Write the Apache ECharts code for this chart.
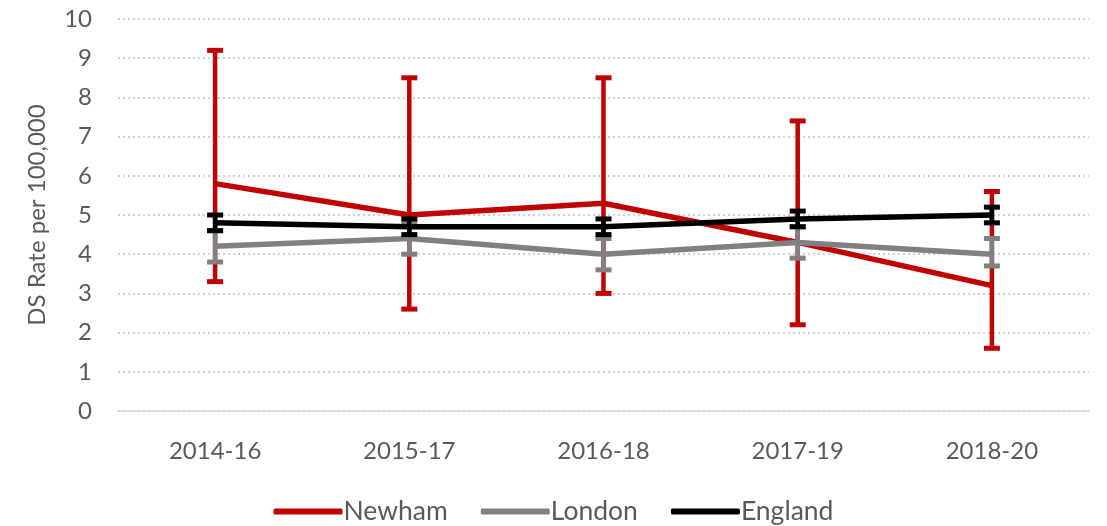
<!DOCTYPE html>
<html>
<head>
<meta charset="utf-8">
<script src="https://cdn.jsdelivr.net/npm/echarts@6/dist/echarts.min.js"></script>
<style>
  html, body { margin: 0; padding: 0; background: #fff; }
  #chart { width: 1107px; height: 526px; }
</style>
</head>
<body>
<div id="chart"></div>
<script>
// Periods (3-year pooled)
const categories = ['2014-16', '2015-17', '2016-18', '2017-19', '2018-20'];

// Rates per 100,000 with 95% confidence limits
const newham     = [5.8, 5.0, 5.3, 4.3, 3.2];
const newhamLow  = [3.3, 2.6, 3.0, 2.2, 1.6];
const newhamHigh = [9.2, 8.5, 8.5, 7.4, 5.6];

const london     = [4.2, 4.4, 4.0, 4.3, 4.0];
const londonLow  = [3.8, 4.0, 3.6, 3.9, 3.7];
const londonHigh = [4.6, 4.8, 4.4, 4.7, 4.4];

const england     = [4.8, 4.7, 4.7, 4.9, 5.0];
const englandLow  = [4.6, 4.5, 4.5, 4.7, 4.8];
const englandHigh = [5.0, 4.9, 4.9, 5.1, 5.2];

const yTicks = [0, 1, 2, 3, 4, 5, 6, 7, 8, 9, 10];

const textColor = '#595959';
const fontFamily = 'Lato, "Open Sans", sans-serif';

// Vertical confidence-interval bar with caps, one per category
function errorSeries(name, low, high, color, z) {
  return {
    name: name + ' CI',
    type: 'custom',
    z: z,
    silent: true,
    data: low.map((v, i) => [i, v, high[i]]),
    renderItem: function (params, api) {
      const lo = api.coord([api.value(0), api.value(1)]);
      const hi = api.coord([api.value(0), api.value(2)]);
      const half = 8;
      const capStyle = { stroke: color, lineWidth: 5, fill: null };
      return {
        type: 'group',
        children: [
          { type: 'line', shape: { x1: lo[0], y1: lo[1], x2: hi[0], y2: hi[1] }, style: { stroke: color, lineWidth: 4.5, fill: null } },
          { type: 'line', shape: { x1: lo[0] - half, y1: lo[1], x2: lo[0] + half, y2: lo[1] }, style: capStyle },
          { type: 'line', shape: { x1: hi[0] - half, y1: hi[1], x2: hi[0] + half, y2: hi[1] }, style: capStyle }
        ]
      };
    }
  };
}

function lineSeries(name, data, color, z) {
  return {
    name: name,
    type: 'line',
    z: z,
    data: data,
    symbol: 'none',
    lineStyle: { color: color, width: 5.5 },
    itemStyle: { color: color },
    silent: true
  };
}

const chart = echarts.init(document.getElementById('chart'), null, { renderer: 'canvas' });

chart.setOption({
  animation: false,
  textStyle: { fontFamily: fontFamily },
  grid: { left: 118, right: 18, top: 19, bottom: 115, containLabel: false },
  legend: {
    data: ['Newham', 'London', 'England'],
    top: 493,
    left: 'center',
    icon: 'roundRect',
    itemWidth: 69,
    itemHeight: 6,
    itemGap: 33,
    textStyle: { color: textColor, fontSize: 26.5, fontFamily: fontFamily, padding: [0, 0, 0, -4] }
  },
  xAxis: {
    type: 'category',
    data: categories,
    boundaryGap: true,
    axisLine: { show: true, lineStyle: { color: '#d9d9d9', width: 1.5 } },
    axisTick: { show: false },
    axisLabel: { color: textColor, fontSize: 24, margin: 28 },
    splitLine: { show: false }
  },
  yAxis: {
    type: 'value',
    min: yTicks[0],
    max: yTicks[yTicks.length - 1],
    interval: 1,
    name: 'DS Rate per 100,000',
    nameLocation: 'middle',
    nameGap: 69,
    nameTextStyle: { color: textColor, fontSize: 24 },
    axisLine: { show: false },
    axisTick: { show: false },
    axisLabel: { color: textColor, fontSize: 24, margin: 26 },
    splitLine: { show: true, lineStyle: { color: '#d0d0d0', width: 2, type: [2, 3] } }
  },
  series: [
    lineSeries('Newham', newham, '#c00000', 2),
    errorSeries('Newham', newhamLow, newhamHigh, '#c00000', 3),
    lineSeries('London', london, '#808080', 4),
    errorSeries('London', londonLow, londonHigh, '#808080', 5),
    lineSeries('England', england, '#000000', 6),
    errorSeries('England', englandLow, englandHigh, '#000000', 7)
  ]
});
</script>
</body>
</html>
